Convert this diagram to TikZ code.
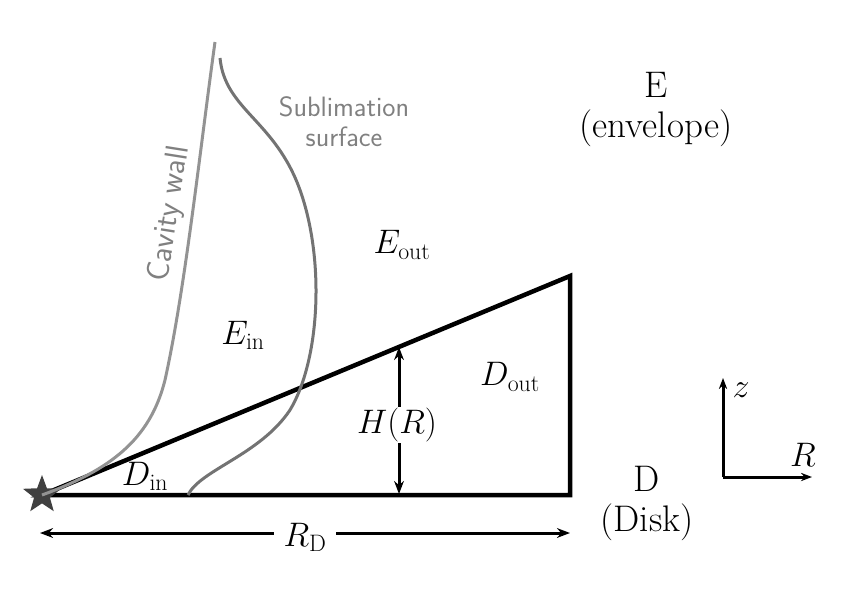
\documentclass[tikz,border=0pt]{standalone}
\usepackage{fix-cm}
\usepackage{fontspec}
\usetikzlibrary{arrows.meta,shapes.geometric}
\begin{document}
\begin{tikzpicture}[x=1pt,y=-1pt,
  lbl/.style={font=\fontsize{34}{40}\selectfont,align=center},
  tlbl/.style={font=\fontsize{37}{40}\selectfont,align=center},
  glbl/.style={font=\sffamily\fontsize{28}{30}\selectfont,text=gray,align=center},
  thickline/.style={line width=4.5pt},
  dim/.style={line width=3pt,{Stealth[length=13pt]}-{Stealth[length=13pt]}},
  curve/.style={line width=3pt,color=gray}]
\useasboundingbox (0,0) rectangle (852,590);
\coordinate (S) at (42,495);
\coordinate (B) at (570,495);
\coordinate (T) at (570,276);
\draw[thickline,line join=miter] (S) -- (B) -- (T) -- cycle;
\node[star,star points=5,star point ratio=2.4,fill=black!75,minimum size=40pt,inner sep=0pt] (star) at (S) {};
\coordinate (h1) at (399,347);
\coordinate (h0) at (399,494);
\draw[dim] (h1) -- (h0);
\node[lbl,fill=white,inner sep=1pt] (HR) at (397,425) {$H(R)$};
\coordinate (r0) at (40,533);
\coordinate (r1) at (570,533);
\draw[dim] (r0) -- (r1);
\node[lbl,fill=white,inner xsep=10pt] (RD) at (305,537) {$R_{\mathrm{D}}$};
\draw[curve,color=gray!85] (S) .. controls (110,470) and (150,440) .. (165,380)
  .. controls (185,290) and (200,150) .. (215,42);
\node[glbl,font=\sffamily\fontsize{32}{32}\selectfont,rotate=81,inner sep=0pt] (cw) at (170,214) {Cavity wall};
\draw[curve,color=gray!90!black] (188,495) .. controls (200,470) and (260,455) .. (290,410)
  .. controls (320,360) and (325,260) .. (300,190)
  .. controls (275,120) and (225,110) .. (220,58);
\node[glbl] (ss) at (344,122) {Sublimation\\surface};
\node[lbl] (Ein) at (243,335) {$E_{\mathrm{in}}$};
\node[lbl] (Eout) at (402,245) {$E_{\mathrm{out}}$};
\node[lbl] (Dout) at (510,377) {$D_{\mathrm{out}}$};
\node[lbl] (Din) at (145,476) {$D_{\mathrm{in}}$};
\node[tlbl] (E) at (656,110) {E\\(envelope)};
\node[tlbl] (D) at (647,503) {D\\(Disk)};
\coordinate (o) at (723,477);
\coordinate (zt) at (723,378);
\coordinate (rt) at (812,477);
\draw[line width=3pt,-{Stealth[length=11pt]}] (o) -- (zt);
\draw[line width=3pt,-{Stealth[length=11pt]}] (o) -- (rt);
\node[lbl] (z) at (741,390) {$z$};
\node[lbl] (R) at (803,455) {$R$};
\end{tikzpicture}
\end{document}
